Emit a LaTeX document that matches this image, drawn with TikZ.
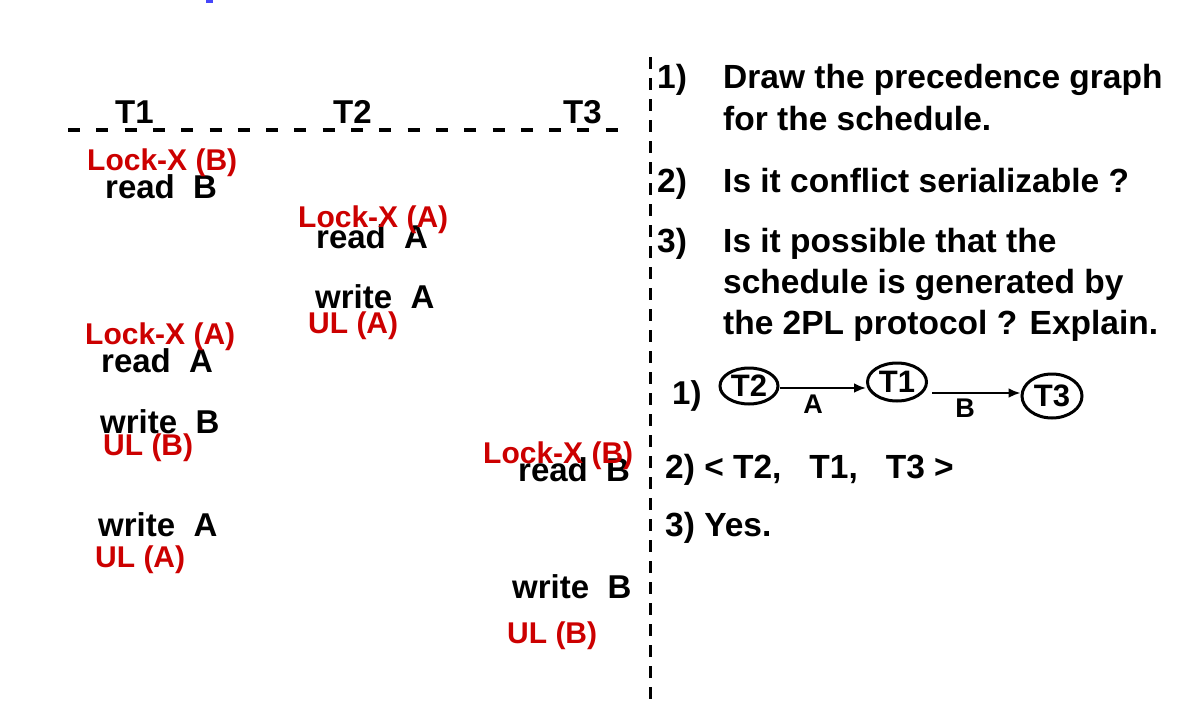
\documentclass[tikz,border=0pt]{standalone}
\usepackage{fontspec}
\setmainfont{Liberation Sans}
\usetikzlibrary{arrows.meta,shapes.geometric,positioning}
\definecolor{lockred}{RGB}{204,0,0}
\definecolor{topblue}{RGB}{70,70,250}

\begin{document}
\begin{tikzpicture}[x=1pt,y=-1pt,
	op/.style={anchor=base west,inner sep=0pt,font=\fontsize{33}{40}\selectfont\bfseries},
	lk/.style={anchor=base west,inner sep=0pt,text=lockred,font=\fontsize{30}{36}\selectfont\bfseries},
	qs/.style={anchor=base west,inner sep=0pt,font=\fontsize{33.5}{41}\selectfont\bfseries},
	tx/.style={ellipse,draw,line width=3pt,inner sep=0pt,font=\fontsize{31}{37}\selectfont\bfseries},
	lbl/.style={anchor=base,inner sep=0pt,font=\fontsize{27}{32}\selectfont\bfseries},
	arc/.style={line width=2.8pt,-{Latex[length=12pt,width=10pt]}},
	]
	\useasboundingbox (0,0) rectangle (1178,728);
	
	\fill[topblue] (206,0) rectangle (213,3);
	
	% header
	\node[op] (h1) at (115,123) {T1};
	\node[op] (h2) at (333,123) {T2};
	\node[op] (h3) at (563,123) {T3};
	\draw[line width=4pt,dash pattern=on 12pt off 16.3pt] (68,130) -- (618,130);
	
	% separator
	\draw[line width=3pt,dash pattern=on 12pt off 9pt] (650,57) -- (650,699);
	
	% T1
	\node[op] (r1b) at (105,198) {read~~B};
	\node[op] (r1a) at (101,372) {read~~A};
	\node[op] (w1b) at (100,433) {write~~B};
	\node[op] (w1a) at (98,536) {write~~A};
	\node[lk] (l1b) at (87,170) {Lock-X (B)};
	\node[lk] (l1a) at (85,344) {Lock-X (A)};
	\node[lk] (u1b) at (103,455) {UL (B)};
	\node[lk] (u1a) at (95,567) {UL (A)};
	
	% T2
	\node[op] (r2a) at (316,248) {read~~A};
	\node[op] (w2a) at (315,308) {write~~A};
	\node[lk] (l2a) at (298,227) {Lock-X (A)};
	\node[lk] (u2a) at (308,333) {UL (A)};
	
	% T3
	\node[op] (r3b) at (518,481) {read~~B};
	\node[op] (w3b) at (512,598) {write~~B};
	\node[lk] (l3b) at (483,463) {Lock-X (B)};
	\node[lk] (u3b) at (507,643) {UL (B)};
	
	% questions
	\node[qs] (q1) at (657,88) {1)};
	\node[qs] (q1a) at (723,88) {Draw the precedence graph};
	\node[qs] (q1b) at (723,130) {for the schedule.};
	\node[qs] (q2) at (657,192) {2)};
	\node[qs] (q2a) at (723,192) {Is it conflict serializable ?};
	\node[qs] (q3) at (657,252) {3)};
	\node[qs] (q3a) at (723,252) {Is it possible that the};
	\node[qs] (q3b) at (723,293) {schedule is generated by};
	\node[qs] (q3c) at (723,334) {the 2PL protocol ? Explain.};
	
	% answers
	\node[op] (g0) at (672,404) {1)};
	\node[tx,minimum width=58pt,minimum height=36pt] (t2) at (749,386) {T2};
	\node[tx,minimum width=59pt,minimum height=38pt] (t1) at (897,382) {T1};
	\node[tx,minimum width=60pt,minimum height=44pt] (t3) at (1052,396) {T3};
	\draw[arc] ([yshift=-2pt]t2.east) -- ([yshift=-2pt]t2.east -| t1.west);
	\draw[arc] ([xshift=4pt,yshift=-11pt]t1.east) -- ([yshift=-11pt]t1.east -| t3.west);
	\node[lbl] (la) at (813,413) {A};
	\node[lbl] (lb) at (965,417) {B};
	
	\node[qs] (a2) at (665,478) {2) < T2,~~~T1,~~~T3 >};
	\node[qs] (a3) at (665,536) {3) Yes.};
\end{tikzpicture}
\end{document}
